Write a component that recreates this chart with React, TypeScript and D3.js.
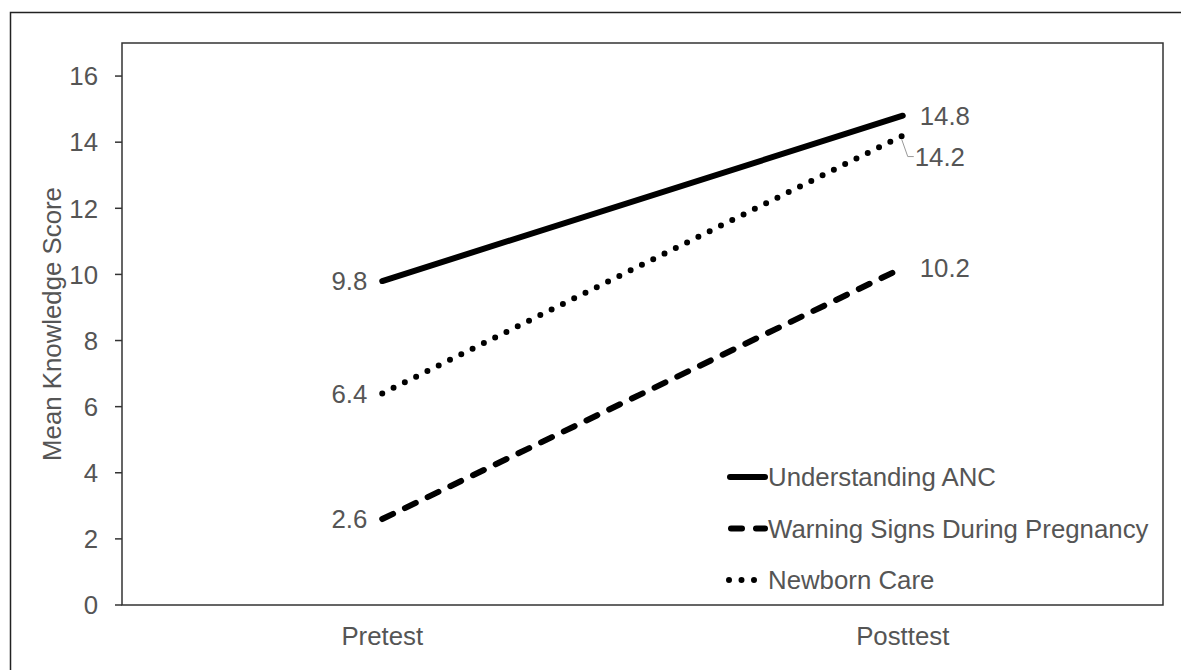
import React from "react";
import * as d3 from "d3";

const categories = ["Pretest", "Posttest"];
const seriesNames = ["Understanding ANC", "Warning Signs During Pregnancy", "Newborn Care"];
const understandingANC = [9.8, 14.8];
const warningSigns = [2.6, 10.2];
const newbornCare = [6.4, 14.2];
const yTicks = [0, 2, 4, 6, 8, 10, 12, 14, 16];
const yTitle = "Mean Knowledge Score";

const W = 1181;
const H = 670;
const FONT = "'Liberation Sans', Arial, Helvetica, sans-serif";
const TXT = "#555555";

export default function App() {
  const left = 122, right = 1163, top = 43, bottom = 605;
  const x = d3.scaleBand<string>().domain(categories).range([left, right]);
  const cx = (c: string) => (x(c) as number) + x.bandwidth() / 2;
  const y = d3.scaleLinear().domain([0, 17]).range([bottom, top]);

  const series = [
    { name: seriesNames[0], values: understandingANC, dash: "none" },
    { name: seriesNames[1], values: warningSigns, dash: "12 13.2" },
    { name: seriesNames[2], values: newbornCare, dash: "0 12.6" },
  ];
  const line = d3
    .line<number>()
    .x((_, i) => cx(categories[i]))
    .y((v) => y(v));

  const fs = 25.8;

  const legendLines = [
    { x1: 730, x2: 765, dash: "none" },
    { x1: 731, x2: 765, dash: "11 14" },
    { x1: 729, x2: 756, dash: "0 12.5" },
  ];

  return (
    <svg
      width={W}
      height={H}
      style={{ position: "absolute", left: 0, top: 0, background: "#fff" }}
      fontFamily={FONT}
    >
      <rect x={0} y={0} width={W} height={H} fill="#fff" />
      {/* outer frame */}
      <rect x={10.5} y={12.5} width={1300} height={800} fill="none" stroke="#222" strokeWidth={1.5} />
      {/* plot box */}
      <rect x={left} y={top} width={right - left} height={bottom - top} fill="none" stroke="#333" strokeWidth={1.5} />
      {/* y ticks */}
      {yTicks.map((t) => (
        <g key={t}>
          <line x1={left - 7} x2={left} y1={y(t)} y2={y(t)} stroke="#333" strokeWidth={1.5} />
          <text x={98} y={y(t)} dy="0.36em" textAnchor="end" fontSize={fs} fill={TXT}>
            {t}
          </text>
        </g>
      ))}
      {/* x labels */}
      {categories.map((c) => (
        <text key={c} x={cx(c)} y={645} textAnchor="middle" fontSize={fs} fill={TXT}>
          {c}
        </text>
      ))}
      {/* y title */}
      <text
        transform={`translate(${52},${(top + bottom) / 2}) rotate(-90)`}
        dy="0.36em"
        textAnchor="middle"
        fontSize={fs}
        fill={TXT}
      >
        {yTitle}
      </text>
      {/* lines */}
      {series.map((s) => (
        <path
          key={s.name}
          d={line(s.values) as string}
          fill="none"
          stroke="#000"
          strokeWidth={6}
          strokeLinecap="round"
          strokeDasharray={s.dash}
        />
      ))}
      {/* left data labels */}
      {series.map((s) => (
        <text
          key={s.name + "lab"}
          x={cx(categories[0]) - 15}
          y={y(s.values[0])}
          dy="0.36em"
          textAnchor="end"
          fontSize={fs}
          fill={TXT}
        >
          {s.values[0].toFixed(1)}
        </text>
      ))}
      {/* right labels */}
      <text x={cx(categories[1]) + 17} y={y(understandingANC[1])} dy="0.36em" fontSize={fs} fill={TXT}>
        {understandingANC[1].toFixed(1)}
      </text>
      <text x={cx(categories[1]) + 17} y={y(warningSigns[1])} dy="0.36em" fontSize={fs} fill={TXT}>
        {warningSigns[1].toFixed(1)}
      </text>
      <polyline
        points={`${cx(categories[1]) - 1},${y(newbornCare[1]) + 4} ${cx(categories[1]) + 5},${y(newbornCare[1]) + 21} ${cx(categories[1]) + 11},${y(newbornCare[1]) + 21}`}
        fill="none"
        stroke="#999"
        strokeWidth={1}
      />
      <text x={cx(categories[1]) + 12} y={y(newbornCare[1]) + 21} dy="0.36em" fontSize={fs} fill={TXT}>
        {newbornCare[1].toFixed(1)}
      </text>
      {/* legend */}
      {series.map((s, i) => {
        const ly = 477 + i * 51.5;
        const ll = legendLines[i];
        return (
          <g key={s.name + "leg"}>
            <line
              x1={ll.x1}
              x2={ll.x2}
              y1={ly}
              y2={ly}
              stroke="#000"
              strokeWidth={6}
              strokeLinecap="round"
              strokeDasharray={ll.dash}
            />
            <text x={768} y={ly} dy="0.36em" fontSize={fs} fill={TXT}>
              {s.name}
            </text>
          </g>
        );
      })}
    </svg>
  );
}
